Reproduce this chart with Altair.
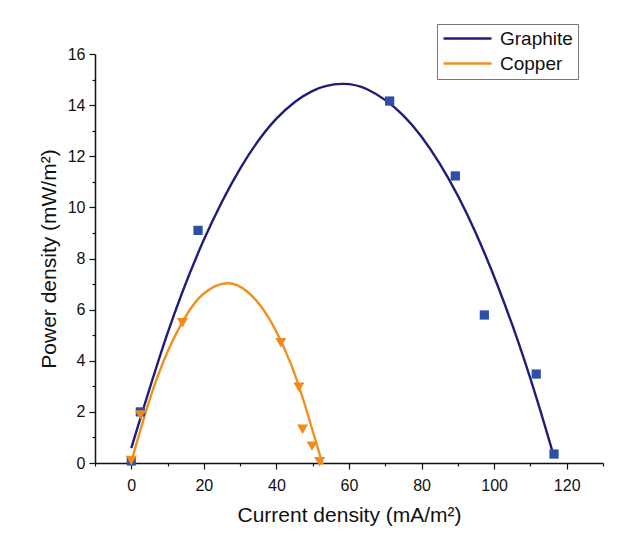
import altair as alt
import pandas as pd

graphite_x = [0, 2.5, 18.4, 71.2, 89.3, 97.3, 111.6, 116.5]
graphite_y = [0.08, 2.0, 9.1, 14.16, 11.23, 5.79, 3.48, 0.35]
copper_x = [0, 2.5, 14.1, 41.2, 46.2, 47.2, 49.8, 51.9]
copper_y = [0.1, 1.88, 5.49, 4.7, 2.96, 1.32, 0.66, 0.05]

# Fitted curves
graphite_fit_x = [0, 10, 20, 30, 40, 50, 58, 65, 75, 85, 95, 105, 112, 116.5]
graphite_fit_y = [0.58, 5.08, 8.73, 11.52, 13.47, 14.56, 14.83, 14.62, 13.59, 11.71, 8.98, 5.40, 2.39, 0.24]
copper_fit_x = [0, 5, 10, 15, 20, 26.3, 32, 38, 44, 48, 52, 52.6]
copper_fit_y = [0.04, 2.45, 4.35, 5.74, 6.63, 7.03, 6.70, 5.65, 3.87, 2.2, 0.3, 0.04]

series_names = ["Graphite", "Copper"]
line_colors = ["#1e1e78", "#f0901e"]
graphite_point_color = "#2f4ea6"
copper_point_color = "#f08a1a"

x_ticks = list(range(-10, 131, 10))
y_ticks = list(range(0, 17, 1))

FONT = "Liberation Sans"

lines_df = pd.DataFrame({
    "series": ["Graphite"] * len(graphite_fit_x) + ["Copper"] * len(copper_fit_x),
    "x": graphite_fit_x + copper_fit_x,
    "y": graphite_fit_y + copper_fit_y,
    "order": list(range(len(graphite_fit_x))) + list(range(len(copper_fit_x))),
})
g_df = pd.DataFrame({"x": graphite_x, "y": graphite_y})
c_df = pd.DataFrame({"x": copper_x, "y": copper_y})

x_scale = alt.Scale(domain=[-10, 130], nice=False, zero=False)
y_scale = alt.Scale(domain=[0, 16], nice=False)

x_axis = alt.Axis(
    values=x_ticks,
    labelExpr="datum.value % 20 === 0 ? datum.label : ''",
    tickSize={"condition": {"test": "datum.value % 20 === 0", "value": 6}, "value": 3},
    labelPadding=8,
    titlePadding=11,
    grid=False,
)
y_axis = alt.Axis(
    values=y_ticks,
    labelExpr="datum.value % 2 === 0 ? datum.label : ''",
    tickSize={"condition": {"test": "datum.value % 2 === 0", "value": 6}, "value": 3},
    labelPadding=4,
    titlePadding=8,
    grid=False,
)

X = alt.X("x:Q", scale=x_scale, axis=x_axis, title="Current density (mA/m²)")
Y = alt.Y("y:Q", scale=y_scale, axis=y_axis, title="Power density (mW/m²)")

lines = alt.Chart(lines_df).mark_line(strokeWidth=2.4, interpolate="natural").encode(
    x=X,
    y=Y,
    order="order:Q",
    color=alt.Color(
        "series:N",
        scale=alt.Scale(domain=series_names, range=line_colors),
        legend=alt.Legend(
            title=None,
            orient="none",
            legendX=342,
            legendY=-30,
            symbolType="stroke",
            symbolSize=2304,
            symbolStrokeWidth=2.5,
            clipHeight=19,
            labelFont=FONT,
            labelFontSize=19,
            labelColor="#111",
            labelOffset=7,
            rowPadding=5,
            padding=5,
            strokeColor="#777",
            fillColor="white",
        ),
    ),
)

g_points = alt.Chart(g_df).mark_point(
    shape="square", filled=True, size=85, color=graphite_point_color, opacity=1
).encode(x=X, y=Y)

c_points = alt.Chart(c_df).mark_point(
    shape="triangle-down", filled=True, size=120, color=copper_point_color, opacity=1
).encode(x=X, y=Y)

chart = (
    alt.layer(lines, g_points, c_points)
    .properties(
        width=508,
        height=409,
        autosize=alt.AutoSizeParams(type="none"),
        padding={"left": 87, "top": 46, "right": 10, "bottom": 80},
        background="white",
    )
    .configure_view(stroke=None)
    .configure_axis(
        labelFont=FONT,
        titleFont=FONT,
        labelFontSize=16,
        titleFontSize=21,
        titleFontWeight="normal",
        labelColor="#111",
        titleColor="#111",
        domainColor="#111",
        domainWidth=1.5,
        tickColor="#111",
        tickWidth=1.2,
    )
)

chart.save("out.html", embed_options={"renderer": "svg", "actions": False})
